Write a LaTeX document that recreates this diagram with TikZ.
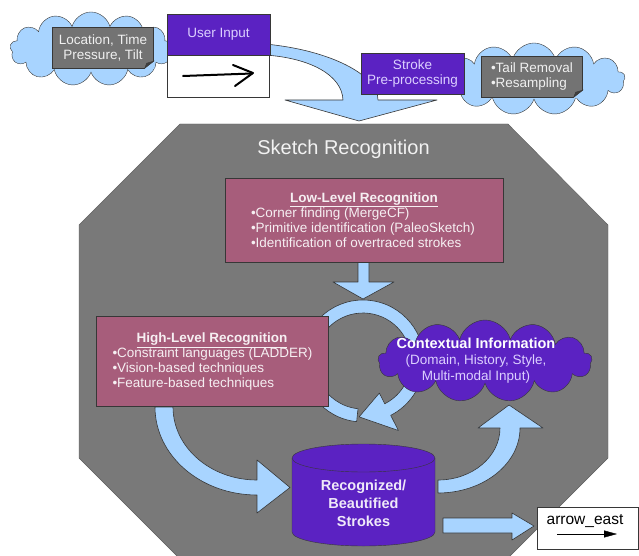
\documentclass[tikz,border=0pt]{standalone}
\usepackage{fontspec}
\setmainfont{Liberation Sans}
\usetikzlibrary{shapes, arrows.meta, calc}
\definecolor{skyblue}{RGB}{168,212,255}
\definecolor{inkpurple}{RGB}{91,34,194}
\definecolor{mauve}{RGB}{167,93,123}
\definecolor{notegray}{RGB}{115,115,115}
\definecolor{octgray}{RGB}{121,121,121}
\definecolor{lavender}{RGB}{220,208,255}
\definecolor{rim}{RGB}{55,55,55}

\begin{document}
\begin{tikzpicture}[x=1pt,y=-1pt]\tikzset{every node/.style={inner sep=0pt, font=\fontsize{13.5}{15}\selectfont}, puff/.style={cloud, cloud puffs=13, aspect=2.2, draw=rim, thin, fill=skyblue}, tab/.style={rectangle, draw=rim, fill=inkpurple, text=lavender, align=center, minimum width=103pt, minimum height=41pt}, memo/.style={rectangle, draw=rim, fill=notegray, text=white!88!gray, minimum width=101pt, minimum height=41pt}, stage/.style={rectangle, draw=rim, fill=mauve, text=white!90!mauve, align=center}, fat/.style={draw=rim, fill=skyblue, line width=0.6pt, line join=round}}
	\useasboundingbox (0,0) rectangle (639,556);
	\clip (0,0) rectangle (639,556);
	% octagon
	\filldraw[draw=rim!80, fill=octgray] (180,124) -- (508,124) -- (608,225) -- (608,458) -- (508,558) -- (179,558) -- (79,458) -- (79,225) -- cycle;
	\node[text=white!90!gray, font=\fontsize{20}{24}\selectfont] (title) at (343.5,149) {Sketch Recognition};
	% input side
	\node[puff, minimum width=162pt, minimum height=74pt] (leftcloud) at (91,49) {};
	\node[puff, minimum width=182pt, minimum height=72pt] (rightcloud) at (534,79) {};
	\filldraw[fat] (265,44) .. controls (330,50) and (378,75) .. (378,100) -- (437,100) -- (359,121) -- (285,100) -- (343,100) .. controls (342,75) and (310,58) .. (265,55) -- cycle;
	\node[tab] (input) at (218.5,34.5) {User Input};
	\node[rectangle, draw=rim, fill=white, minimum width=102pt, minimum height=42pt] (sketch) at (218,76) {};
	\draw[line width=2pt, line cap=round, line join=round] (183,76) -- (252,73.5);
	\draw[line width=2pt, line cap=round, line join=round] (233,65) -- (253,73) -- (235,86);
	\node[memo, align=center] (sensors) at (103,47.5) {Location, Time\\Pressure, Tilt};
	\fill[skyblue] ($(sensors.south east)+(-9,0.6)$) -- ($(sensors.south east)+(0.6,0.6)$) -- ($(sensors.south east)+(0.6,-7)$) -- cycle;
	\filldraw[draw=rim, fill=notegray!55!black] ($(sensors.south east)+(-9,0)$) -- ($(sensors.south east)+(0,-7)$) -- ($(sensors.south east)+(-7,-5)$) -- cycle;
	\node[tab] (prep) at (412.5,73.5) {Stroke\\Pre-processing};
	\node[memo, align=left] (cleanup) at (532,76.5) {•Tail Removal\\•Resampling};
	\fill[skyblue] ($(cleanup.south east)+(-9,0.6)$) -- ($(cleanup.south east)+(0.6,0.6)$) -- ($(cleanup.south east)+(0.6,-7)$) -- cycle;
	\filldraw[draw=rim, fill=notegray!55!black] ($(cleanup.south east)+(-9,0)$) -- ($(cleanup.south east)+(0,-7)$) -- ($(cleanup.south east)+(-7,-5)$) -- cycle;
	% recognition loop
	\coordinate (hub) at (363,361);
	\filldraw[fat] ($(hub)+(96:61)$) arc[start angle=96, end angle=423, radius=61] -- ($(hub)+(423:78)$) -- ($(hub)+(454:56)$) -- ($(hub)+(423:36)$) -- ($(hub)+(423:48)$) arc[start angle=423, end angle=96, radius=48] -- cycle;
	\filldraw[fat] (358,260) -- (358,282) -- (333,282) -- (363,299) -- (394,282) -- (369,282) -- (369,260) -- cycle;
	\filldraw[fat] (155,407) arc[start angle=180, end angle=90, x radius=102, y radius=88] -- (257,513) -- (290,487.5) -- (257,460) -- (257,480) arc[start angle=90, end angle=180, x radius=84, y radius=73] -- cycle;
	\filldraw[fat] (438,493) arc[start angle=90, end angle=0, x radius=82, y radius=65] -- (543,428) -- (509,405) -- (478,428) -- (500,428) arc[start angle=0, end angle=90, x radius=62, y radius=52] -- cycle;
	\filldraw[fat] (443,518) -- (512,518) -- (512,513) -- (534,526) -- (512,540) -- (512,533) -- (443,533) -- cycle;
	\node[puff, fill=inkpurple, minimum width=214pt, minimum height=82pt] (context) at (485,361) {};
	\node[align=center, text=lavender, font=\fontsize{13.5}{16}\selectfont] (contexttext) at (476,361) {{\color{white!95!lavender}\bfseries\fontsize{14.5}{16}\selectfont Contextual Information}\\(Domain, History, Style,\\Multi-modal Input)};
	\node[stage, minimum width=278pt, minimum height=84pt] (lowlevel) at (364,220) {\underline{\textbf{Low-Level Recognition}}\\\makebox[226pt][l]{•Corner finding (MergeCF)}\\\makebox[226pt][l]{•Primitive identification (PaleoSketch)}\\\makebox[226pt][l]{•Identification of overtraced strokes}};
	\node[stage, minimum width=232pt, minimum height=90pt] (highlevel) at (212,361.5) {\underline{\textbf{High-Level Recognition}}\\\makebox[199pt][l]{•Constraint languages (LADDER)}\\\makebox[199pt][l]{•Vision-based techniques}\\\makebox[199pt][l]{•Feature-based techniques}};
	% stroke store
	\filldraw[draw=rim, fill=inkpurple] (292,458) -- (292,532) arc[start angle=180, end angle=0, x radius=71.5, y radius=14] -- (435,458) arc[start angle=0, end angle=-180, x radius=71.5, y radius=14] -- cycle;
	\draw[rim] (292,458) arc[start angle=180, end angle=0, x radius=71.5, y radius=14];
	\node[align=center, text=white!90!inkpurple, font=\bfseries\fontsize{14.5}{18}\selectfont] (store) at (363.5,503) {Recognized/\\Beautified\\Strokes};
	% legend box
	\node[rectangle, draw=rim, fill=white, minimum width=101pt, minimum height=42pt] (east) at (587.5,528) {};
	\node[font=\fontsize{15.5}{18}\selectfont] (eastlabel) at (585,521) {arrow\_east};
	\draw[-{Triangle[length=13pt,width=7pt]}] ($(east.center)+(-30.5,6)$) -- ($(east.center)+(29.5,6)$);
\end{tikzpicture}
\end{document}
